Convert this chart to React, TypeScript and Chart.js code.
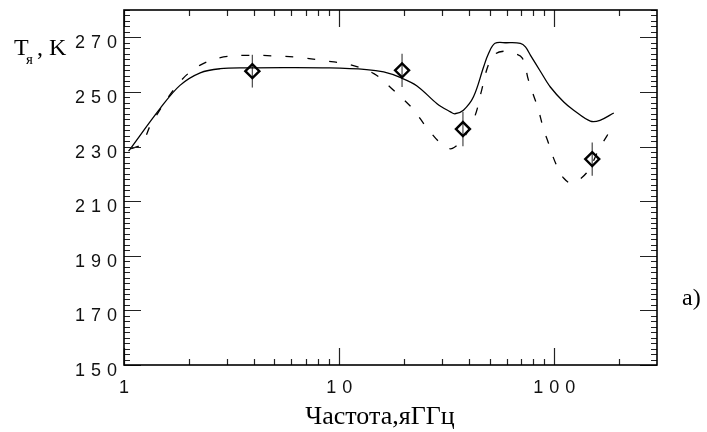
import React, { useEffect, useRef } from 'react';
import { Chart, registerables } from 'chart.js';

Chart.register(...registerables);

// Solid model curve (frequency GHz, brightness temperature K)
const solidFreq = [1.05, 1.47, 1.82, 2.26, 2.8, 3.72, 5.5, 9, 13.4, 16.1, 19.2, 23.0, 28.5, 32.9, 34.5, 37.8, 42.1, 46.9, 49.4, 53, 60, 69.5, 73.4, 77.5, 86.5, 95.8, 110.6, 123, 147, 163, 189];
const solidTemp = [228.3, 243.9, 252.4, 257.0, 258.5, 258.8, 258.9, 258.8, 258.2, 257.3, 255.3, 252.2, 245.7, 242.7, 242.0, 243.3, 248.2, 259.1, 264, 267.8, 268, 267.8, 266.5, 263.4, 257.3, 251.8, 246.3, 243.3, 239.3, 239.6, 242.3];

// Dashed model curve
const dashedFreq = [1.08, 1.21, 1.34, 1.82, 2.26, 2.9, 3.85, 4.95, 6.6, 8.8, 11.2, 14.5, 17.9, 22, 25.5, 30.3, 33.6, 38.5, 42.9, 45.8, 49.2, 53, 58, 64, 71, 75.7, 80, 83.7, 89.4, 93.6, 98, 104, 110, 120, 141, 162, 189];
const dashedTemp = [229.2, 231, 238.4, 253.7, 259.8, 262.8, 263.4, 263.2, 262.6, 261.3, 260, 256.7, 250.6, 243.8, 237, 230.5, 229.3, 234, 241.5, 250.2, 259.6, 263.8, 264.9, 264.3, 262.4, 254.5, 248.8, 244.4, 236, 231.6, 226.8, 222, 218.6, 216.6, 220.3, 229.3, 238];

// Observations with error bars
const obsFreq = [3.95, 19.6, 37.6, 150];
const obsTemp = [257.6, 257.9, 236.4, 225.4];
const obsErr = [6, 6.1, 6.3, 6.1];

// Axes
const xMin = 1;
const xMax = 300;
const yMin = 150;
const yMax = 280;
const xMajorTicks = [1, 10, 100];
const xMinorTicks = [2, 3, 4, 5, 6, 7, 8, 9, 20, 30, 40, 50, 60, 70, 80, 90, 200];
const xTickLabels = ['1', '10', '100'];
const yMajorTicks = [150, 170, 190, 210, 230, 250, 270];
const yTickLabels = ['150', '170', '190', '210', '230', '250', '270'];
const yMinorStep = 2;

const xTitle = 'Частота,яГГц';
const yTitleMain = 'T';
const yTitleSub = 'я';
const yTitleUnit = ', K';
const panelLabel = 'a)';

const TICK_FONT = '18px "Liberation Sans", Arial, sans-serif';
const SERIF = '"Liberation Serif", "Times New Roman", serif';

function drawSpaced(ctx: CanvasRenderingContext2D, text: string, x: number, y: number, align: 'left' | 'right' | 'center', ls: number) {
  ctx.save();
  (ctx as any).letterSpacing = '0px';
  const w0 = ctx.measureText(text).width + ls * (text.length - 1);
  let start = x;
  if (align === 'right') start = x - w0;
  else if (align === 'center') start = x - w0 / 2;
  (ctx as any).letterSpacing = ls + 'px';
  ctx.textAlign = 'left';
  ctx.fillText(text, start, y);
  ctx.restore();
}

const errorBarPlugin = {
  id: 'errorBars',
  beforeDatasetsDraw(chart: any) {
    const { ctx, scales } = chart;
    const xs = scales.x;
    const ys = scales.y;
    ctx.save();
    ctx.strokeStyle = '#555';
    ctx.lineWidth = 1.3;
    obsFreq.forEach((f, i) => {
      const px = xs.getPixelForValue(f);
      const y1 = ys.getPixelForValue(obsTemp[i] + obsErr[i]);
      const y2 = ys.getPixelForValue(obsTemp[i] - obsErr[i]);
      ctx.beginPath();
      ctx.moveTo(px, y1);
      ctx.lineTo(px, y2);
      ctx.stroke();
    });
    ctx.restore();
  },
};

const framePlugin = {
  id: 'frame',
  afterDraw(chart: any) {
    const { ctx, chartArea, scales } = chart;
    const { left, right, top, bottom } = chartArea;
    const xs = scales.x;
    const ys = scales.y;
    ctx.save();
    const MAJ = 17;
    const MIN = 6;
    ctx.strokeStyle = '#222';
    ctx.lineWidth = 1.2;
    ctx.beginPath();
    // y ticks (left and right, inward)
    for (let v = yMin; v <= yMax + 1e-9; v += yMinorStep) {
      const py = Math.round(ys.getPixelForValue(v)) + 0.5;
      const len = yMajorTicks.includes(v) ? MAJ : MIN;
      ctx.moveTo(left, py);
      ctx.lineTo(left + len, py);
      ctx.moveTo(right, py);
      ctx.lineTo(right - len, py);
    }
    // x ticks (bottom and top, inward)
    const xt = [...xMajorTicks.map((v) => [v, MAJ]), ...xMinorTicks.map((v) => [v, MIN])];
    xt.forEach(([v, len]) => {
      const px = Math.round(xs.getPixelForValue(v)) + 0.5;
      ctx.moveTo(px, bottom);
      ctx.lineTo(px, bottom - len);
      ctx.moveTo(px, top);
      ctx.lineTo(px, top + len);
    });
    ctx.stroke();

    // frame
    ctx.strokeStyle = '#000';
    ctx.lineWidth = 1.6;
    ctx.strokeRect(left, top, right - left, bottom - top);

    // tick labels
    ctx.fillStyle = '#111';
    ctx.font = TICK_FONT;
    ctx.textBaseline = 'alphabetic';
    yMajorTicks.forEach((v, i) => {
      const py = ys.getPixelForValue(v);
      drawSpaced(ctx, yTickLabels[i], left - 7, py + 11, 'right', 6);
    });
    xMajorTicks.forEach((v, i) => {
      const px = xs.getPixelForValue(v);
      drawSpaced(ctx, xTickLabels[i], px, bottom + 28, 'center', 6);
    });

    // axis titles
    ctx.fillStyle = '#000';
    ctx.font = '26px ' + SERIF;
    ctx.textAlign = 'center';
    ctx.fillText(xTitle, 380, bottom + 59);

    ctx.textAlign = 'left';
    ctx.font = '24px ' + SERIF;
    ctx.fillText(yTitleMain, 14, 55);
    ctx.font = '15px ' + SERIF;
    ctx.fillText(yTitleSub, 26, 64);
    ctx.font = '24px ' + SERIF;
    ctx.fillText(yTitleUnit, 37, 55);

    ctx.fillText(panelLabel, 682, 305);
    ctx.restore();
  },
};

export default function App() {
  const ref = useRef<HTMLCanvasElement | null>(null);

  useEffect(() => {
    document.body.style.margin = '0';
    document.body.style.overflow = 'hidden';
    const canvas = ref.current;
    if (!canvas) return;
    const chart = new Chart(canvas, {
      type: 'scatter',
      data: {
        datasets: [
          {
            label: 'solid',
            data: solidFreq.map((f, i) => ({ x: f, y: solidTemp[i] })),
            showLine: true,
            borderColor: '#000',
            borderWidth: 1.3,
            pointRadius: 0,
            tension: 0.35,
            fill: false,
          } as any,
          {
            label: 'dashed',
            data: dashedFreq.map((f, i) => ({ x: f, y: dashedTemp[i] })),
            showLine: true,
            borderColor: '#000',
            borderWidth: 1.3,
            borderDash: [8, 14],
            pointRadius: 0,
            tension: 0.35,
            fill: false,
          } as any,
          {
            label: 'obs',
            data: obsFreq.map((f, i) => ({ x: f, y: obsTemp[i] })),
            showLine: false,
            pointStyle: 'rectRot',
            pointRadius: 7,
            pointBorderWidth: 2.4,
            pointBorderColor: '#000',
            pointBackgroundColor: 'rgba(0,0,0,0)',
          } as any,
        ],
      },
      options: {
        animation: false,
        responsive: false,
        devicePixelRatio: 1,
        layout: { padding: { left: 124, top: 10, right: 50, bottom: 67 }, autoPadding: false } as any,
        plugins: {
          legend: { display: false },
          tooltip: { enabled: false },
        },
        scales: {
          x: { type: 'logarithmic', min: xMin, max: xMax, display: false },
          y: { type: 'linear', min: yMin, max: yMax, display: false },
        },
      },
      plugins: [errorBarPlugin, framePlugin],
    });
    return () => chart.destroy();
  }, []);

  return (
    <div style={{ width: 707, height: 432 }}>
      <canvas ref={ref} width={707} height={432} />
    </div>
  );
}
